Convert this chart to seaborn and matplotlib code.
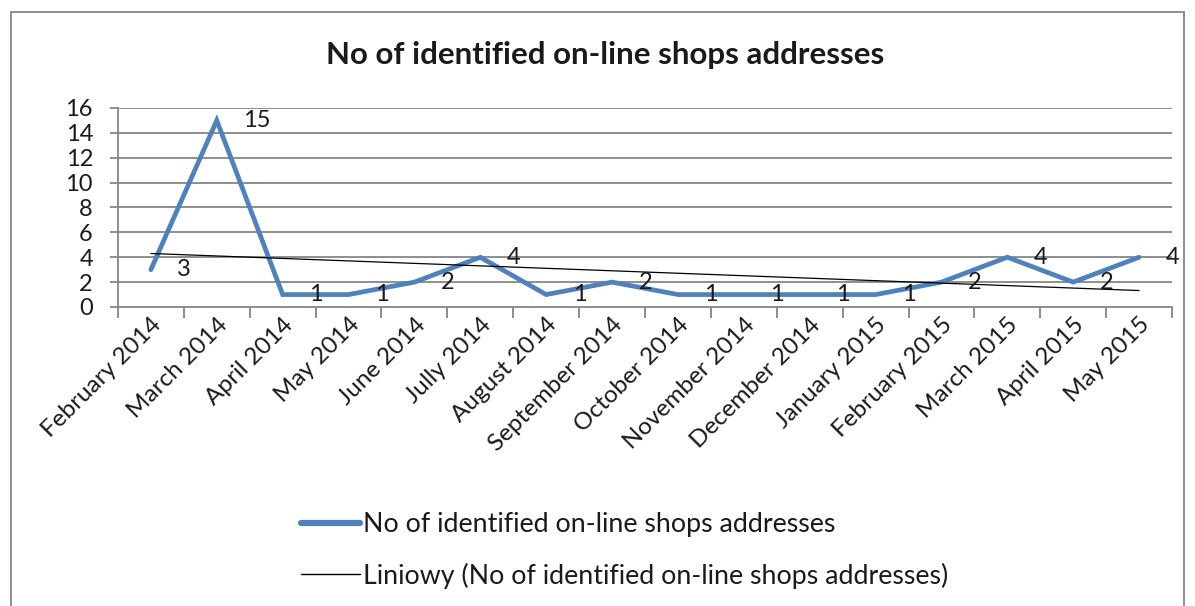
import numpy as np
import pandas as pd
import matplotlib
matplotlib.use("Agg")
import matplotlib.pyplot as plt
from matplotlib.lines import Line2D
from matplotlib.patches import Rectangle
import seaborn as sns

months = ["February 2014", "March 2014", "April 2014", "May 2014", "June 2014",
          "Jully 2014", "August 2014", "September 2014", "October 2014",
          "November 2014", "December 2014", "January 2015", "February 2015",
          "March 2015", "April 2015", "May 2015"]
shops = [3, 15, 1, 1, 2, 4, 1, 2, 1, 1, 1, 1, 2, 4, 2, 4]

title = "No of identified on-line shops addresses"
series_name = "No of identified on-line shops addresses"
trend_name = "Liniowy (No of identified on-line shops addresses)"

sns.set_theme(style="white")
plt.rcParams["font.family"] = ["Lato", "DejaVu Sans"]

df = pd.DataFrame({"pos": np.arange(len(months)), "shops": shops})

fig = plt.figure(figsize=(11.95, 6.06), dpi=100)
ax = fig.add_axes([0.0987, 0.4934, 0.8821, 0.3284])

# gridlines first so lines sit on top
for v in range(2, 17, 2):
    ax.axhline(v, color="#868686", lw=1.3, zorder=0)

blue = "#4F81BD"
sns.lineplot(data=df, x="pos", y="shops", color=blue, lw=3.4, ax=ax,
             solid_joinstyle="miter", zorder=3)
sns.regplot(data=df, x="pos", y="shops", scatter=False, ci=None, truncate=True,
            color="black", line_kws={"lw": 0.9, "zorder": 4}, ax=ax)

for x, y in zip(df["pos"], df["shops"]):
    ax.annotate(str(y), (x, y), xytext=(19, 0), textcoords="offset points",
                va="center", ha="left", fontsize=17, color="#1a1a1a", zorder=5)

ax.set_xlim(-0.5, len(months) - 0.5)
ax.set_ylim(0, 16)
ax.set_yticks(range(0, 17, 2))
ax.set_xticks(df["pos"])
ax.set_xticklabels(months, rotation=45, ha="right", rotation_mode="anchor",
                   fontsize=17.5, color="#1a1a1a")
ax.set_xticks(np.arange(-0.5, len(months), 1), minor=True)
ax.tick_params(axis="x", which="major", length=0, pad=5)
ax.tick_params(axis="x", which="minor", length=8, width=1.3, color="#868686",
               direction="out", bottom=True)
ax.tick_params(axis="y", labelsize=17, labelcolor="#1a1a1a", length=6,
               width=1.3, color="#868686", left=True, pad=12)
ax.set_xlabel("")
ax.set_ylabel("")
for s in ["top", "right"]:
    ax.spines[s].set_visible(False)
for s in ["left", "bottom"]:
    ax.spines[s].set_color("#868686")
    ax.spines[s].set_linewidth(1.3)

fig.text(0.506, 0.909, title, ha="center", va="center", fontsize=22.5,
         fontweight="bold", color="#1a1a1a")

handles = [Line2D([], [], color=blue, lw=4.5, solid_capstyle="round"),
           Line2D([], [], color="black", lw=1.0)]
fig.legend(handles, [series_name, trend_name], loc="upper left",
           bbox_to_anchor=(0.232, 0.195), frameon=False, fontsize=19.3,
           handlelength=2.2, handletextpad=0.1, labelspacing=0.95,
           labelcolor="#1a1a1a")

fig.patches.append(Rectangle((0.009, -0.05), 0.982, 1.03, transform=fig.transFigure,
                             fill=False, edgecolor="#868686", lw=1.3))

fig.savefig("out.png", dpi=100)
